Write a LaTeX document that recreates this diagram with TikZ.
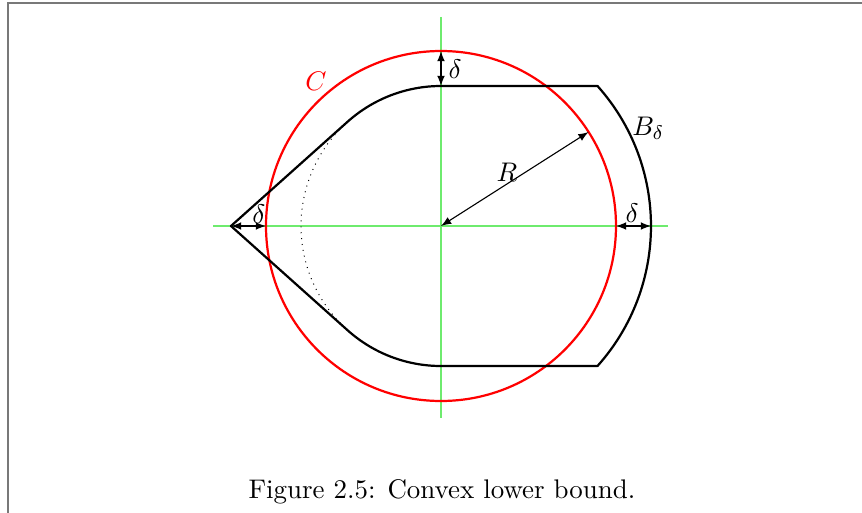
\documentclass[11pt,tikz,border=0pt]{standalone}
\usetikzlibrary{arrows}
\definecolor{axisgreen}{RGB}{110,235,110}
\definecolor{framegray}{RGB}{120,120,120}
\tikzset{
  axisline/.style={axisgreen, line width=0.5pt},
  shapeline/.style={black, line width=0.9pt, line join=round},
  circline/.style={red, line width=0.9pt},
  dimarrow/.style={<->, >=latex, line width=0.45pt},
  lbl/.style={inner sep=1pt}
}
\begin{document}
\begin{tikzpicture}
\useasboundingbox (-6.3,-4.1) rectangle (6.0143,3.2286);
\clip (-6.3,-4.1) rectangle (6.0143,3.2286);
% frame
\draw[framegray, line width=0.6pt] (-6.186,-5) -- (-6.186,3.186) -- (7,3.186);
% coordinates
\coordinate (O) at (0,0);
\coordinate (Ctop) at (0,2.5);
\coordinate (Btop) at (0,2);
\coordinate (Apex) at (-3,0);
\coordinate (Cleft) at (-2.5,0);
\coordinate (Cright) at (2.5,0);
\coordinate (Bright) at (3,0);
\coordinate (Rend) at (32.5:2.5);
% axes
\draw[axisline] (-3.257,0) -- (3.243,0);
\draw[axisline] (0,2.986) -- (0,-2.743);
% circle C
\draw[circline] (O) circle[radius=2.5];
% shape B_delta
\draw[shapeline] (131.81:2) arc[start angle=131.81, end angle=90, radius=2]
  -- (41.81:3) arc[start angle=41.81, end angle=-41.81, radius=3]
  -- (0,-2) arc[start angle=270, end angle=228.19, radius=2]
  -- (Apex) -- cycle;
% dotted inner arc
\draw[dotted, line width=0.4pt] (131.81:2) arc[start angle=131.81, end angle=228.19, radius=2];
% dimension arrows
\draw[dimarrow] (Ctop) -- (Btop);
\draw[dimarrow] (Apex) -- (Cleft);
\draw[dimarrow] (Cright) -- (Bright);
\draw[dimarrow] (O) -- (Rend);
% labels
\node[lbl, red] (lC) at (-1.786,2.071) {$C$};
\node[lbl] (lB) at (2.96,1.40) {$B_\delta$};
\node[lbl] (lR) at (0.943,0.771) {$R$};
\node[lbl] (ld1) at (0.2,2.243) {$\delta$};
\node[lbl] (ld2) at (-2.6,0.171) {$\delta$};
\node[lbl] (ld3) at (2.729,0.186) {$\delta$};
\node[lbl] (cap) at (0.014,-3.80) {Figure 2.5: Convex lower bound.};
\end{tikzpicture}
\end{document}
